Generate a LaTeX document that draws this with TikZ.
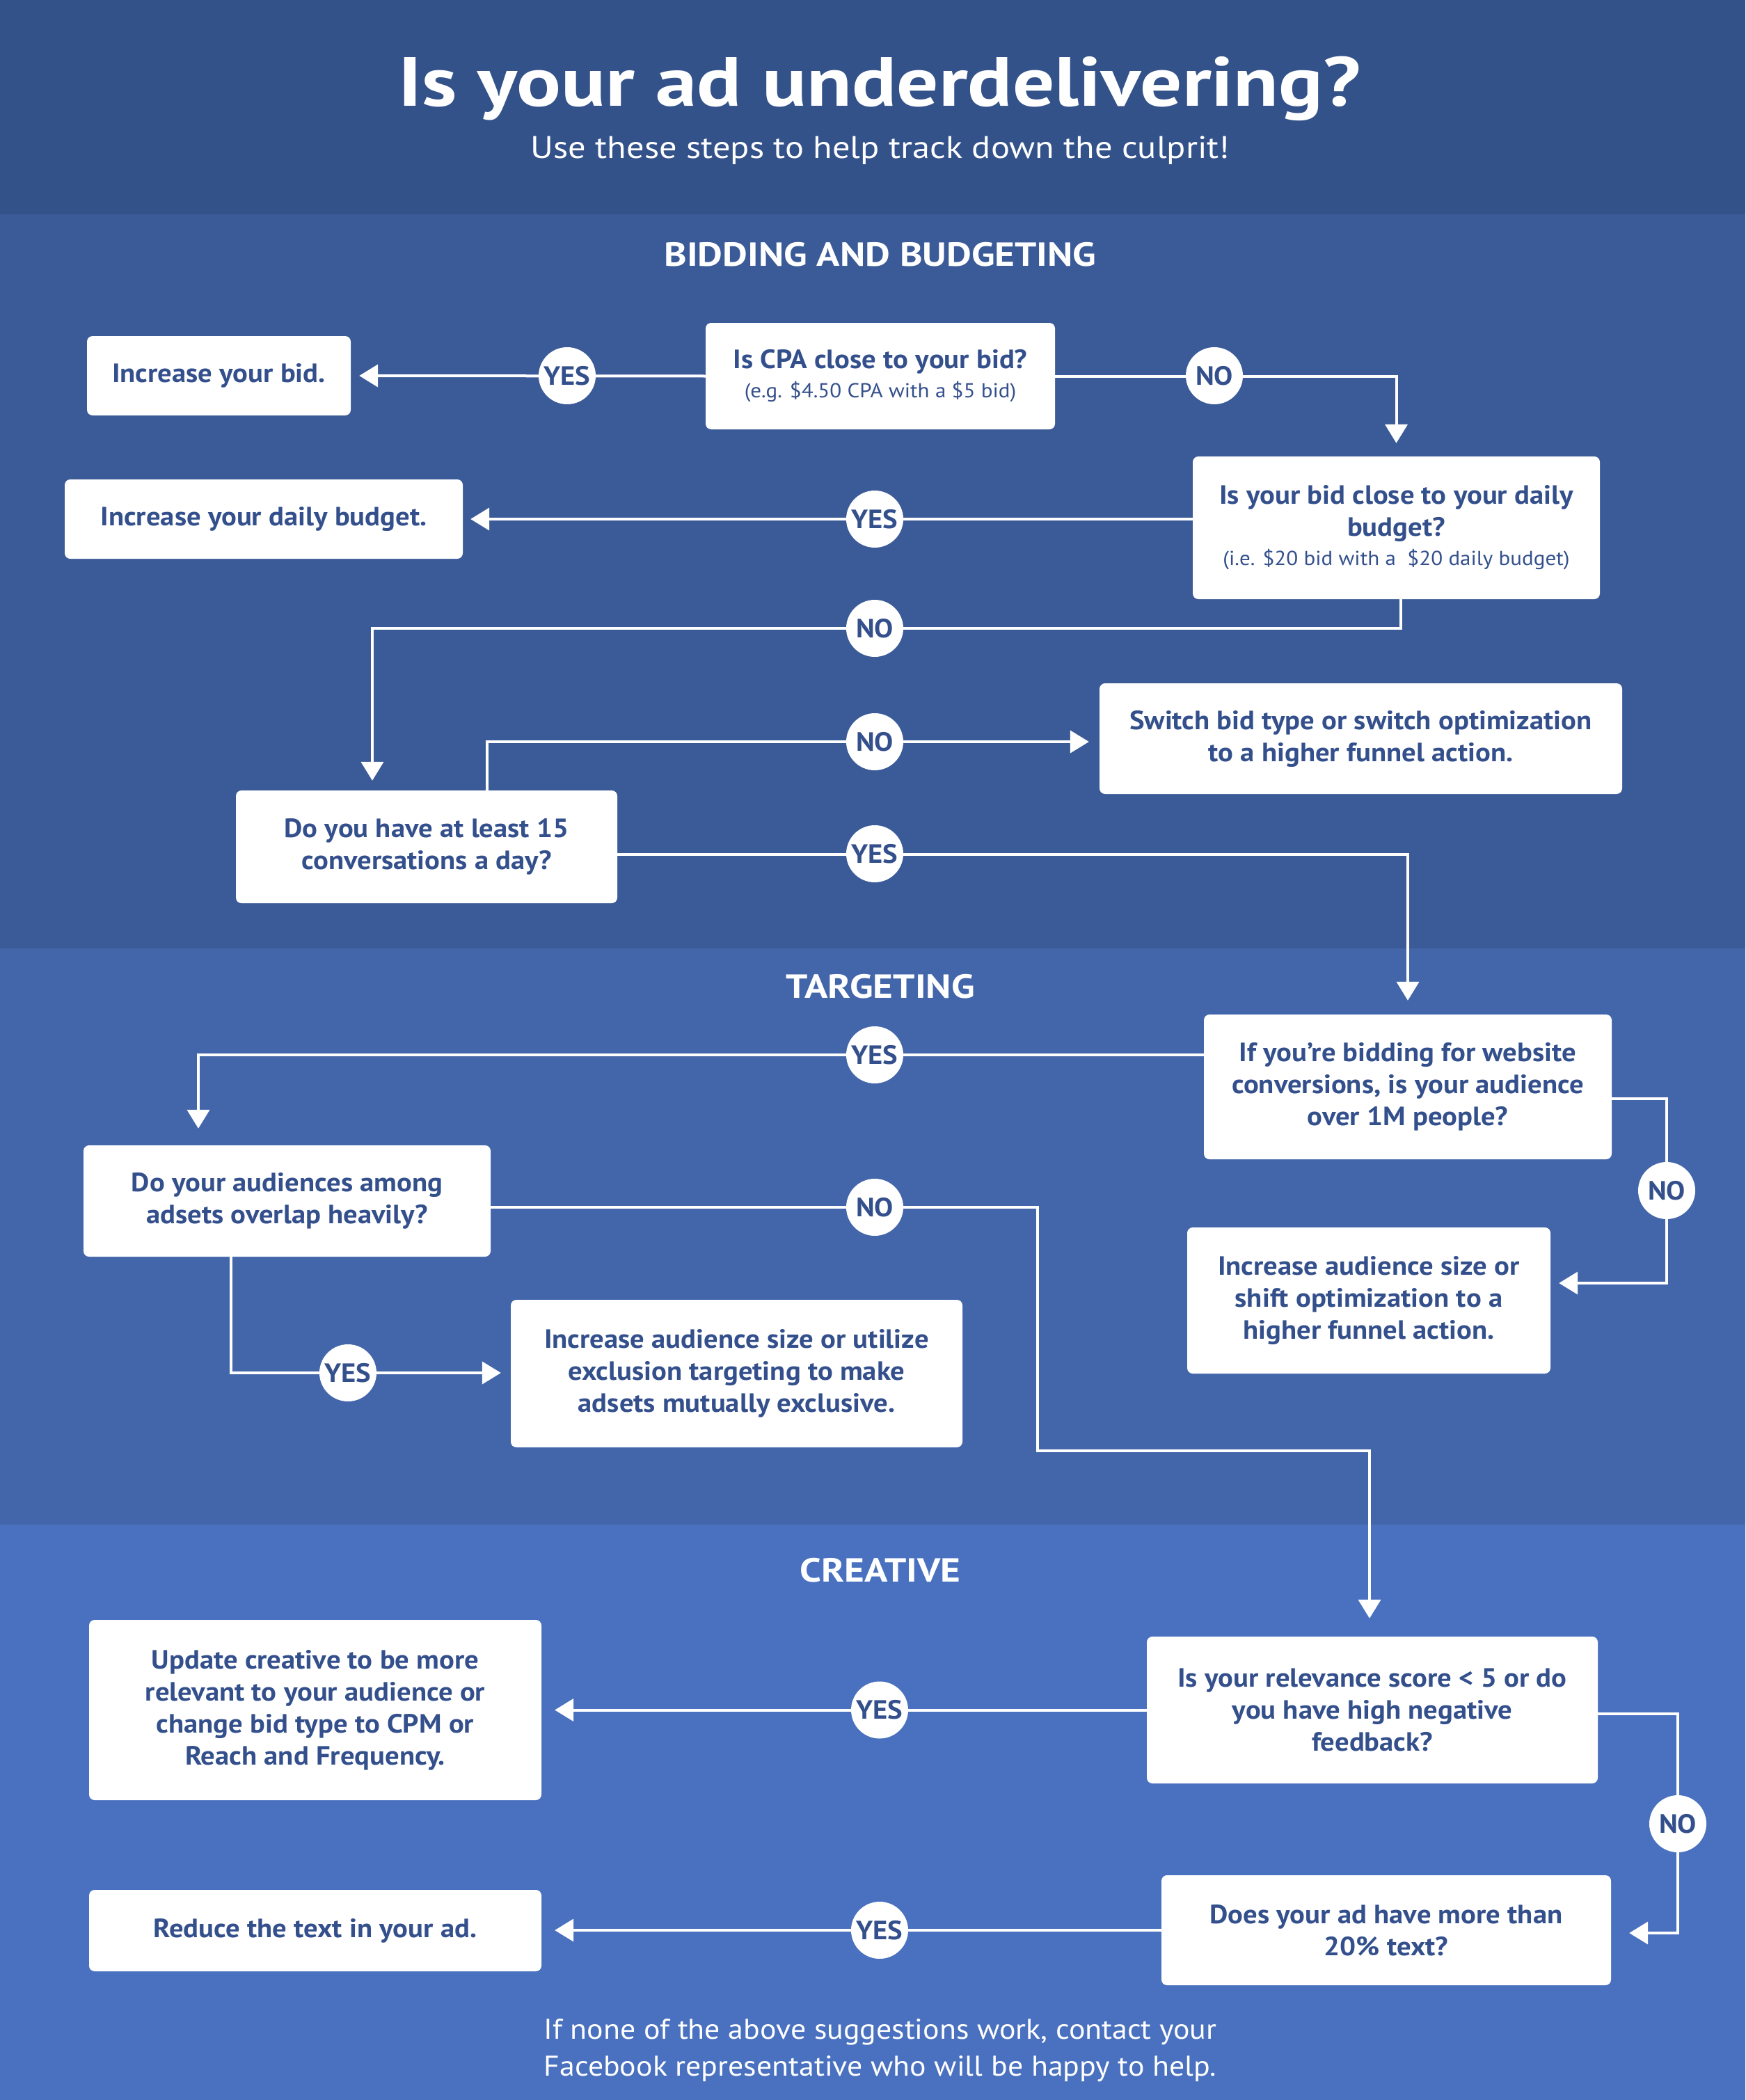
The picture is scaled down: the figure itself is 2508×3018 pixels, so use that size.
\documentclass[tikz,border=0pt]{standalone}
\usepackage{fontspec}
\setmainfont{PT Sans}[FakeStretch=1.07]
\newfontfamily\titlef{PT Sans}[FakeStretch=1.19]
\newfontfamily\headf{PT Sans}[FakeStretch=1.15]
\newfontfamily\subtf{PT Sans}[FakeStretch=1.12]
\usetikzlibrary{arrows.meta}
\definecolor{hdrc}{HTML}{34528A}
\definecolor{secA}{HTML}{3B5B98}
\definecolor{secB}{HTML}{4366AA}
\definecolor{secC}{HTML}{4A71BF}
\definecolor{txtc}{HTML}{34508C}
\newcommand\bxfont{\fontsize{38}{46}\selectfont\bfseries}
\newcommand\smfont{\fontsize{29}{40}\selectfont\mdseries}
\tikzset{
  x=1pt, y=-1pt,
  box/.style={fill=white, rounded corners=8pt, text=txtc, align=center, inner sep=0pt, font=\bxfont},
  lbl/.style={circle, fill=white, minimum size=82pt, inner sep=0pt, text=txtc, font=\bxfont},
  arr/.style={draw=white, line width=4pt, -{Triangle[length=27pt,width=32pt]}},
  sechead/.style={text=white, anchor=base, font=\headf\fontsize{48}{56}\selectfont\bfseries},
}
\begin{document}
\begin{tikzpicture}
\useasboundingbox (0,0) rectangle (2508,3018);
\fill[hdrc] (0,0) rectangle (2508,308);
\fill[secA] (0,308) rectangle (2508,1363);
\fill[secB] (0,1363) rectangle (2508,2191);
\fill[secC] (0,2191) rectangle (2508,3018);

\node[text=white, anchor=base, font=\titlef\fontsize{100}{110}\selectfont\bfseries] (title) at (1264,153) {Is your ad underdelivering?};
\node[text=white, anchor=base, font=\subtf\fontsize{45}{54}\selectfont] (subtitle) at (1265,228) {Use these steps to help track down the culprit!};
\node[sechead] (h1) at (1265,382) {BIDDING AND BUDGETING};
\node[sechead] (h2) at (1265,1434) {TARGETING};
\node[sechead] (h3) at (1265,2273) {CREATIVE};
\node[text=white, anchor=base, align=center, font=\fontsize{41}{53}\selectfont] (foot) at (1265,2983) {If none of the above suggestions work, contact your\\Facebook representative who will be happy to help.};

% boxes
\node[box, minimum width=379pt, minimum height=114pt] (bid) at (314.5,540) {Increase your bid.};
\node[box, minimum width=502pt, minimum height=153pt] (cpa) at (1265,540.5) {Is CPA close to your bid?\\[-4pt]{\smfont (e.g. \$4.50 CPA with a \$5 bid)}};
\node[box, minimum width=572pt, minimum height=114pt] (daily) at (379,746) {Increase your daily budget.};
\node[box, minimum width=585pt, minimum height=205pt] (bidbudget) at (2006.5,758.5) {Is your bid close to your daily\\budget?\\[-4pt]{\smfont (i.e. \$20 bid with a \ \$20 daily budget)}};
\node[box, minimum width=548pt, minimum height=162pt] (conv) at (613,1217) {Do you have at least 15\\conversations a day?};
\node[box, minimum width=751pt, minimum height=159pt] (switch) at (1955.5,1061.5) {Switch bid type or switch optimization\\to a higher funnel action.};
\node[box, minimum width=586pt, minimum height=208pt] (website) at (2023,1562) {If you’re bidding for website\\conversions, is your audience\\over 1M people?};
\node[box, minimum width=585pt, minimum height=160pt] (overlap) at (412.5,1726) {Do your audiences among\\adsets overlap heavily?};
\node[box, minimum width=649pt, minimum height=212pt] (excl) at (1058.5,1974) {Increase audience size or utilize\\exclusion targeting to make\\adsets mutually exclusive.};
\node[box, minimum width=522pt, minimum height=210pt] (incaud) at (1967,1869) {Increase audience size or\\shift optimization to a\\higher funnel action.};
\node[box, minimum width=648pt, minimum height=211pt] (relevance) at (1972,2457.5) {Is your relevance score < 5 or do\\you have high negative\\feedback?};
\node[box, minimum width=650pt, minimum height=259pt] (update) at (453,2457.5) {Update creative to be more\\relevant to your audience or\\change bid type to CPM or\\Reach and Frequency.};
\node[box, minimum width=646pt, minimum height=158pt] (moretext) at (1992,2774) {Does your ad have more than\\20\% text?};
\node[box, minimum width=650pt, minimum height=117pt] (reduce) at (453,2774.5) {Reduce the text in your ad.};

% helper coordinates
\coordinate (k4) at (535,903);
\coordinate (k5) at (700,1066);
\coordinate (k6) at (2023,1228);
\coordinate (k7) at (285,1516);
\coordinate (k8a) at (2395,1579);
\coordinate (k8b) at (2395,1844);
\coordinate (k9a) at (1491,1735);
\coordinate (k9b) at (1491,2085);
\coordinate (k9c) at (1968,2085);
\coordinate (k10) at (332,1973);
\coordinate (k12a) at (2411,2463);
\coordinate (k12b) at (2411,2778);

% connectors
\draw[arr, shorten >=12pt] (cpa.west) -- (bid.east);
\draw[arr, shorten >=19pt] (cpa.east) -| (bidbudget.north);
\draw[arr, shorten >=11pt] (bidbudget.west |- daily.east) -- (daily.east);
\draw[arr, shorten >=14pt] ([xshift=6pt]bidbudget.south) |- (k4) -- (k4 |- conv.north);
\draw[arr, shorten >=15pt] (k5 |- conv.north) -- (k5) -- (k5 -| switch.west);
\draw[arr, shorten >=20pt] (conv.east |- k6) -- (k6) -- (website.north);
\draw[arr, shorten >=24pt] (website.west |- k7) -- (k7) -- (k7 |- overlap.north);
\draw[arr, shorten >=12pt] (website.east |- k8a) -- (k8a) -- (k8b) -- (k8b -| incaud.east);
\draw[arr, shorten >=26pt] (overlap.east |- k9a) -- (k9a) -- (k9b) -- (k9c) -- (k9c |- relevance.north);
\draw[arr, shorten >=14pt] (overlap.south -| k10) -- (k10) -- (k10 -| excl.west);
\draw[arr, shorten >=19pt] (relevance.west) -- (relevance.west -| update.east);
\draw[arr, shorten >=26pt] (relevance.east |- k12a) -- (k12a) -- (k12b) -- (k12b -| moretext.east);
\draw[arr, shorten >=19pt] (moretext.west) -- (moretext.west -| reduce.east);

% labels
\node[lbl] (l1) at (815,540) {YES};
\node[lbl] (l2) at (1745,540) {NO};
\node[lbl] (l3) at (1257,746) {YES};
\node[lbl] (l4) at (1257,903) {NO};
\node[lbl] (l5) at (1257,1066) {NO};
\node[lbl] (l6) at (1257,1227) {YES};
\node[lbl] (l7) at (1257,1516) {YES};
\node[lbl] (l8) at (2395,1711) {NO};
\node[lbl] (l9) at (1257,1735) {NO};
\node[lbl] (l10) at (500,1973) {YES};
\node[lbl] (l11) at (1264,2457.5) {YES};
\node[lbl] (l12) at (2411,2621) {NO};
\node[lbl] (l13) at (1264,2774) {YES};
\end{tikzpicture}
\end{document}
